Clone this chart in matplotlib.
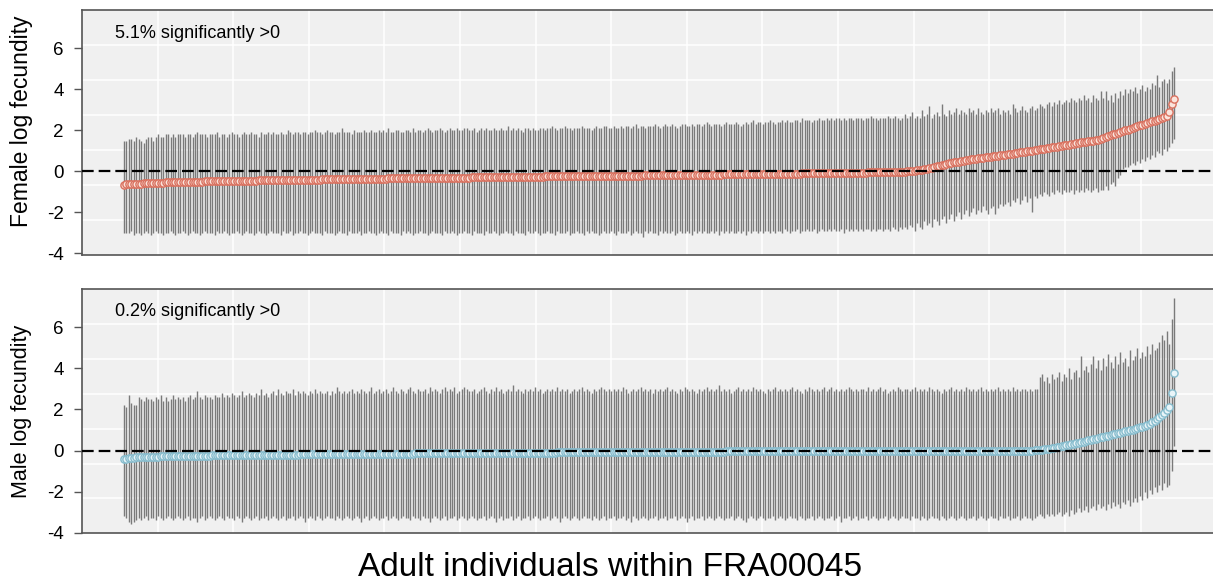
import numpy as np
import matplotlib
matplotlib.use("Agg")
import matplotlib.pyplot as plt

plt.rcParams['font.family'] = ['Liberation Sans', 'DejaVu Sans']
plt.rcParams['axes.unicode_minus'] = False
plt.rcParams['lines.scale_dashes'] = False

# posterior means and 95% intervals, individuals sorted by mean
fem_mean = [
    -0.65,-0.64,-0.63,-0.62,-0.62,-0.61,-0.60,-0.60,-0.59,-0.59,-0.58,-0.58,-0.57,-0.57,-0.56,-0.55,-0.55,-0.54,-0.54,-0.54,
    -0.53,-0.53,-0.53,-0.52,-0.52,-0.52,-0.51,-0.51,-0.51,-0.50,-0.50,-0.50,-0.50,-0.49,-0.49,-0.49,-0.49,-0.48,-0.48,-0.48,
    -0.48,-0.47,-0.47,-0.47,-0.47,-0.46,-0.46,-0.46,-0.46,-0.46,-0.45,-0.45,-0.45,-0.45,-0.45,-0.44,-0.44,-0.44,-0.44,-0.44,
    -0.44,-0.43,-0.43,-0.43,-0.43,-0.43,-0.42,-0.42,-0.42,-0.42,-0.42,-0.41,-0.41,-0.41,-0.41,-0.41,-0.40,-0.40,-0.40,-0.40,
    -0.40,-0.39,-0.39,-0.39,-0.39,-0.39,-0.38,-0.38,-0.38,-0.38,-0.38,-0.37,-0.37,-0.37,-0.37,-0.37,-0.36,-0.36,-0.36,-0.36,
    -0.36,-0.36,-0.35,-0.35,-0.35,-0.35,-0.35,-0.35,-0.34,-0.34,-0.34,-0.34,-0.34,-0.34,-0.33,-0.33,-0.33,-0.33,-0.33,-0.33,
    -0.33,-0.32,-0.32,-0.32,-0.32,-0.32,-0.32,-0.32,-0.31,-0.31,-0.31,-0.31,-0.31,-0.31,-0.31,-0.30,-0.30,-0.30,-0.30,-0.30,
    -0.30,-0.30,-0.29,-0.29,-0.29,-0.29,-0.29,-0.29,-0.29,-0.28,-0.28,-0.28,-0.28,-0.28,-0.28,-0.28,-0.27,-0.27,-0.27,-0.27,
    -0.27,-0.27,-0.27,-0.27,-0.26,-0.26,-0.26,-0.26,-0.26,-0.26,-0.26,-0.26,-0.25,-0.25,-0.25,-0.25,-0.25,-0.25,-0.25,-0.25,
    -0.24,-0.24,-0.24,-0.24,-0.24,-0.24,-0.24,-0.24,-0.24,-0.23,-0.23,-0.23,-0.23,-0.23,-0.23,-0.23,-0.23,-0.22,-0.22,-0.22,
    -0.22,-0.22,-0.22,-0.22,-0.22,-0.21,-0.21,-0.21,-0.21,-0.21,-0.21,-0.21,-0.20,-0.20,-0.20,-0.20,-0.20,-0.20,-0.20,-0.19,
    -0.19,-0.19,-0.19,-0.19,-0.19,-0.18,-0.18,-0.18,-0.18,-0.18,-0.18,-0.17,-0.17,-0.17,-0.17,-0.17,-0.17,-0.16,-0.16,-0.16,
    -0.16,-0.16,-0.16,-0.16,-0.16,-0.15,-0.15,-0.15,-0.15,-0.15,-0.15,-0.14,-0.14,-0.14,-0.14,-0.14,-0.14,-0.14,-0.13,-0.13,
    -0.13,-0.13,-0.13,-0.13,-0.12,-0.12,-0.12,-0.12,-0.12,-0.12,-0.11,-0.11,-0.11,-0.11,-0.11,-0.11,-0.11,-0.10,-0.10,-0.10,
    -0.10,-0.10,-0.10,-0.10,-0.09,-0.09,-0.09,-0.09,-0.09,-0.09,-0.08,-0.08,-0.08,-0.08,-0.08,-0.07,-0.07,-0.07,-0.07,-0.07,
    -0.06,-0.06,-0.06,-0.06,-0.05,-0.05,-0.05,-0.05,-0.04,-0.04,-0.04,-0.04,-0.03,-0.03,-0.03,-0.03,-0.02,-0.02,-0.02,-0.01,
    0.00,0.01,0.02,0.03,0.05,0.07,0.09,0.11,0.13,0.15,0.18,0.21,0.24,0.27,0.30,0.33,0.36,0.39,0.42,0.45,
    0.46,0.48,0.50,0.52,0.54,0.56,0.58,0.60,0.62,0.64,0.66,0.67,0.69,0.71,0.72,0.74,0.75,0.77,0.78,0.80,
    0.82,0.83,0.85,0.86,0.88,0.90,0.92,0.94,0.96,0.98,1.00,1.01,1.03,1.05,1.07,1.09,1.11,1.13,1.15,1.17,
    1.19,1.21,1.23,1.25,1.27,1.29,1.31,1.33,1.35,1.37,1.39,1.41,1.43,1.44,1.46,1.48,1.50,1.52,1.54,1.57,
    1.61,1.66,1.71,1.76,1.80,1.84,1.88,1.92,1.96,2.00,2.04,2.08,2.12,2.16,2.20,2.24,2.28,2.32,2.36,2.40,
    2.44,2.48,2.52,2.56,2.60,2.65,2.71,2.90,3.27,3.55,
]
fem_upper = [
    1.5,1.5,1.6,1.6,1.5,1.7,1.6,1.5,1.4,1.6,1.7,1.7,1.5,1.7,1.8,1.7,1.7,1.8,1.8,1.7,
    1.8,1.7,1.8,1.8,1.8,1.7,1.8,1.8,1.7,1.8,1.9,1.8,1.8,1.8,1.7,1.8,1.8,1.8,1.9,1.7,
    1.8,1.8,1.7,1.8,1.9,1.8,1.8,1.7,1.8,1.9,1.8,1.8,1.9,1.8,1.8,1.7,1.9,1.8,1.8,1.9,
    1.8,1.9,1.8,1.8,1.9,1.8,1.8,2.0,1.9,1.8,1.9,1.9,1.8,1.9,1.9,1.8,1.9,1.9,2.0,1.9,
    1.9,1.8,1.9,2.0,1.9,1.9,1.8,1.9,1.9,2.1,1.9,1.9,1.9,1.8,2.0,1.9,1.9,1.9,2.0,1.9,
    1.9,2.0,1.9,1.9,2.0,1.9,2.0,1.9,2.1,1.9,1.9,2.0,2.0,1.9,1.9,2.0,2.0,1.9,2.1,1.9,
    2.0,2.0,1.9,2.0,2.1,2.0,1.9,2.0,2.0,2.1,2.0,1.9,2.0,2.1,2.0,2.0,2.1,2.0,2.0,2.1,
    2.1,2.0,2.0,2.1,1.9,2.0,2.1,2.0,2.1,2.0,2.0,2.1,2.0,2.0,2.1,2.0,2.0,2.2,2.0,2.1,
    2.0,2.1,2.0,1.9,2.1,2.1,2.0,2.1,2.0,2.0,2.1,2.1,2.0,2.1,2.1,2.2,2.1,2.0,2.1,2.1,
    2.2,2.1,2.1,2.0,2.1,2.1,2.1,2.2,2.1,2.1,2.1,2.0,2.1,2.2,2.1,2.1,2.2,2.2,2.1,2.1,
    2.2,2.1,2.1,2.2,2.1,2.2,2.2,2.1,2.2,2.3,2.1,2.2,2.2,2.1,2.2,2.2,2.2,2.3,2.2,2.1,
    2.2,2.3,2.2,2.2,2.3,2.2,2.1,2.2,2.3,2.3,2.2,2.2,2.3,2.2,2.3,2.3,2.2,2.3,2.4,2.3,
    2.2,2.3,2.3,2.3,2.2,2.3,2.4,2.3,2.3,2.3,2.4,2.3,2.2,2.3,2.4,2.3,2.4,2.5,2.3,2.4,
    2.4,2.3,2.4,2.4,2.5,2.4,2.3,2.4,2.4,2.5,2.4,2.5,2.4,2.4,2.5,2.5,2.4,2.6,2.5,2.5,
    2.5,2.4,2.5,2.5,2.6,2.5,2.5,2.6,2.5,2.6,2.5,2.6,2.6,2.5,2.6,2.5,2.6,2.6,2.5,2.6,
    2.6,2.6,2.5,2.6,2.6,2.7,2.6,2.6,2.5,2.6,2.6,2.6,2.7,2.6,2.6,2.7,2.6,2.5,2.6,2.8,
    2.6,2.7,2.9,2.6,2.7,2.6,3.0,2.7,2.8,3.2,2.6,2.8,2.9,2.7,3.3,2.8,2.7,3.0,2.8,2.9,
    3.1,2.8,3.0,2.9,2.8,3.1,2.9,3.0,2.8,3.1,2.9,2.8,3.0,2.9,3.1,2.9,3.0,3.1,2.8,3.0,
    2.9,3.0,2.8,3.3,3.1,2.9,3.0,3.2,3.0,2.9,3.1,3.2,3.0,3.1,3.3,3.2,3.1,3.3,3.4,3.2,
    3.4,3.3,3.5,3.3,3.4,3.5,3.4,3.6,3.5,3.4,3.6,3.5,3.7,3.5,3.6,3.4,3.7,3.6,3.5,3.9,
    3.6,3.9,3.5,3.7,3.4,3.8,3.6,3.9,3.7,4.0,3.8,4.0,3.9,4.1,3.8,4.0,4.2,3.9,4.1,4.0,
    4.3,4.2,4.7,4.1,4.4,4.5,4.3,4.5,4.9,5.1,
]
fem_lower = [
    -3.0,-3.0,-3.0,-2.9,-3.1,-3.0,-3.0,-3.1,-3.0,-2.9,-3.0,-3.1,-3.0,-2.9,-3.0,-3.0,-3.1,-3.0,-3.0,-2.9,
    -3.0,-3.1,-3.0,-3.0,-2.9,-3.0,-3.1,-3.0,-2.9,-3.0,-3.0,-3.1,-3.0,-2.9,-3.0,-3.0,-3.0,-3.1,-2.9,-3.0,
    -3.0,-2.9,-3.0,-3.1,-3.0,-3.0,-2.9,-3.0,-3.1,-3.0,-2.9,-3.0,-3.0,-3.1,-3.0,-2.9,-3.0,-3.0,-3.1,-3.0,
    -2.9,-3.0,-3.0,-3.0,-3.1,-2.9,-3.0,-3.0,-2.9,-3.1,-3.0,-3.0,-2.9,-3.0,-3.0,-3.1,-3.0,-2.9,-3.0,-3.0,
    -3.0,-3.1,-2.9,-3.0,-3.0,-3.0,-3.1,-3.0,-2.9,-3.0,-3.0,-3.1,-2.9,-3.0,-3.0,-3.0,-2.9,-3.1,-3.0,-3.0,
    -2.9,-3.0,-3.0,-3.1,-3.0,-2.9,-3.0,-3.0,-3.1,-2.9,-3.0,-3.0,-3.0,-3.1,-2.9,-3.0,-2.9,-3.0,-3.1,-3.0,
    -3.0,-2.9,-3.0,-3.0,-3.1,-3.0,-2.9,-3.0,-3.0,-3.0,-3.1,-2.9,-3.0,-3.0,-2.9,-3.0,-3.1,-3.0,-3.0,-2.9,
    -3.0,-3.0,-3.1,-2.9,-3.0,-3.0,-3.0,-3.1,-2.9,-3.0,-3.0,-2.9,-3.0,-3.1,-3.0,-3.0,-2.9,-3.0,-3.0,-3.1,
    -2.9,-3.0,-3.0,-3.0,-3.1,-2.9,-3.0,-3.0,-2.9,-3.0,-3.1,-3.0,-3.0,-2.9,-3.0,-3.0,-3.1,-2.9,-3.0,-3.0,
    -3.0,-2.9,-3.1,-3.0,-3.0,-2.9,-3.0,-3.0,-3.1,-2.9,-3.0,-2.9,-3.0,-3.0,-3.1,-3.0,-2.9,-3.0,-3.0,-2.9,
    -3.0,-3.1,-2.9,-3.0,-3.0,-3.0,-2.9,-3.1,-3.0,-2.9,-3.0,-3.0,-3.2,-2.9,-3.0,-2.9,-3.0,-3.0,-3.1,-2.9,
    -3.0,-2.9,-3.0,-3.0,-2.9,-3.1,-3.0,-2.9,-3.0,-3.0,-2.9,-3.0,-3.1,-2.9,-3.0,-2.9,-3.0,-2.9,-3.0,-3.0,
    -2.9,-3.0,-2.9,-3.1,-2.9,-3.0,-2.9,-3.0,-2.9,-3.0,-3.0,-2.9,-3.0,-2.9,-3.1,-2.9,-3.0,-2.9,-2.9,-3.0,
    -2.9,-3.0,-2.9,-2.9,-3.0,-2.9,-3.0,-2.9,-2.9,-3.0,-2.8,-2.9,-3.0,-2.9,-2.9,-2.8,-3.0,-2.9,-2.9,-2.8,
    -2.9,-2.9,-2.8,-3.0,-2.9,-2.8,-2.9,-2.9,-2.8,-2.9,-2.8,-2.9,-2.9,-2.8,-3.0,-2.8,-2.9,-2.8,-2.9,-2.8,
    -2.9,-2.8,-2.9,-2.8,-2.8,-2.9,-2.8,-2.9,-2.8,-2.8,-2.9,-2.8,-2.8,-2.9,-2.7,-2.8,-2.9,-2.7,-2.8,-2.7,
    -2.8,-2.6,-2.7,-2.9,-2.5,-2.7,-2.8,-2.4,-2.6,-2.5,-2.7,-2.3,-2.4,-2.6,-2.3,-2.2,-2.5,-2.3,-2.1,-2.4,
    -2.2,-2.0,-2.3,-2.1,-1.9,-2.2,-2.0,-1.8,-2.1,-1.9,-2.0,-1.7,-1.9,-2.1,-1.8,-1.7,-2.1,-1.8,-1.6,-1.7,
    -1.6,-1.5,-1.7,-1.4,-1.5,-1.3,-1.6,-1.4,-1.2,-1.5,-1.3,-2.0,-1.2,-1.3,-1.1,-1.2,-1.0,-1.1,-1.2,-1.0,
    -1.1,-0.9,-1.0,-1.1,-0.9,-1.0,-1.0,-0.9,-1.1,-0.9,-1.0,-0.9,-1.0,-0.8,-0.9,-1.0,-0.9,-0.8,-1.0,-0.9,
    -0.9,-0.7,-0.9,-0.6,-0.5,-0.7,-0.3,-0.2,0.1,0.2,0.2,0.3,0.4,0.3,0.5,0.4,0.6,0.5,0.7,0.6,
    0.8,0.7,1.0,0.9,0.8,1.1,1.0,1.2,1.4,1.6,
]

male_mean = [
    -0.42,-0.40,-0.38,-0.36,-0.35,-0.34,-0.33,-0.33,-0.32,-0.32,-0.31,-0.31,-0.30,-0.30,-0.30,-0.29,-0.29,-0.29,-0.28,-0.28,
    -0.28,-0.28,-0.27,-0.27,-0.27,-0.27,-0.26,-0.26,-0.26,-0.26,-0.26,-0.25,-0.25,-0.25,-0.25,-0.25,-0.24,-0.24,-0.24,-0.24,
    -0.24,-0.24,-0.23,-0.23,-0.23,-0.23,-0.23,-0.23,-0.23,-0.22,-0.22,-0.22,-0.22,-0.22,-0.22,-0.22,-0.21,-0.21,-0.21,-0.21,
    -0.21,-0.21,-0.21,-0.21,-0.20,-0.20,-0.20,-0.20,-0.20,-0.20,-0.20,-0.20,-0.19,-0.19,-0.19,-0.19,-0.19,-0.19,-0.19,-0.19,
    -0.19,-0.18,-0.18,-0.18,-0.18,-0.18,-0.18,-0.18,-0.18,-0.18,-0.17,-0.17,-0.17,-0.17,-0.17,-0.17,-0.17,-0.17,-0.17,-0.16,
    -0.16,-0.16,-0.16,-0.16,-0.16,-0.16,-0.16,-0.16,-0.16,-0.15,-0.15,-0.15,-0.15,-0.15,-0.15,-0.15,-0.15,-0.15,-0.15,-0.14,
    -0.14,-0.14,-0.14,-0.14,-0.14,-0.14,-0.14,-0.14,-0.14,-0.13,-0.13,-0.13,-0.13,-0.13,-0.13,-0.13,-0.13,-0.13,-0.13,-0.13,
    -0.13,-0.12,-0.12,-0.12,-0.12,-0.12,-0.12,-0.12,-0.12,-0.12,-0.12,-0.12,-0.12,-0.11,-0.11,-0.11,-0.11,-0.11,-0.11,-0.11,
    -0.11,-0.11,-0.11,-0.11,-0.11,-0.10,-0.10,-0.10,-0.10,-0.10,-0.10,-0.10,-0.10,-0.10,-0.10,-0.10,-0.10,-0.09,-0.09,-0.09,
    -0.09,-0.09,-0.09,-0.09,-0.09,-0.09,-0.09,-0.09,-0.09,-0.09,-0.08,-0.08,-0.08,-0.08,-0.08,-0.08,-0.08,-0.08,-0.08,-0.08,
    -0.08,-0.08,-0.08,-0.07,-0.07,-0.07,-0.07,-0.07,-0.07,-0.07,-0.07,-0.07,-0.07,-0.07,-0.07,-0.07,-0.06,-0.06,-0.06,-0.06,
    -0.06,-0.06,-0.06,-0.06,-0.06,-0.06,-0.06,-0.06,-0.06,-0.06,-0.05,-0.05,-0.05,-0.05,-0.05,-0.05,-0.05,-0.05,-0.05,-0.05,
    -0.05,-0.05,-0.05,-0.05,-0.05,-0.05,-0.04,-0.04,-0.04,-0.04,-0.04,-0.04,-0.04,-0.04,-0.04,-0.04,-0.04,-0.04,-0.04,-0.04,
    -0.04,-0.04,-0.04,-0.04,-0.03,-0.03,-0.03,-0.03,-0.03,-0.03,-0.03,-0.03,-0.03,-0.03,-0.03,-0.03,-0.03,-0.03,-0.03,-0.03,
    -0.03,-0.03,-0.03,-0.03,-0.03,-0.03,-0.03,-0.02,-0.02,-0.02,-0.02,-0.02,-0.02,-0.02,-0.02,-0.02,-0.02,-0.02,-0.02,-0.02,
    -0.02,-0.02,-0.02,-0.02,-0.02,-0.02,-0.02,-0.02,-0.02,-0.02,-0.02,-0.01,-0.01,-0.01,-0.01,-0.01,-0.01,-0.01,-0.01,-0.01,
    -0.01,-0.01,-0.01,-0.01,-0.01,-0.01,-0.01,-0.01,-0.01,-0.01,-0.01,-0.01,-0.01,-0.01,-0.01,-0.01,-0.01,-0.01,-0.01,-0.01,
    -0.01,-0.01,-0.01,-0.01,-0.01,-0.01,-0.01,-0.01,-0.01,-0.01,-0.01,-0.01,-0.01,-0.01,-0.01,-0.01,-0.01,-0.01,-0.01,-0.01,
    -0.01,-0.01,-0.01,-0.01,-0.01,-0.01,-0.01,0.00,0.00,0.00,0.00,0.00,0.01,0.01,0.02,0.03,0.05,0.07,0.09,0.11,
    0.13,0.15,0.18,0.20,0.22,0.25,0.28,0.30,0.33,0.36,0.38,0.40,0.43,0.46,0.49,0.52,0.55,0.58,0.61,0.64,
    0.66,0.69,0.72,0.75,0.78,0.81,0.84,0.87,0.90,0.93,0.96,0.99,1.02,1.05,1.08,1.12,1.16,1.20,1.24,1.30,
    1.38,1.46,1.55,1.64,1.72,1.82,1.98,2.14,2.78,3.76,
]
male_upper = [
    2.2,2.1,2.7,2.3,2.2,2.2,2.6,2.5,2.4,2.6,2.5,2.5,2.4,2.6,2.5,2.7,2.4,2.6,2.4,2.5,
    2.7,2.5,2.6,2.5,2.6,2.4,2.6,2.7,2.5,2.6,2.9,2.6,2.5,2.7,2.6,2.6,2.5,2.7,2.6,2.6,
    2.8,2.6,2.7,2.6,2.8,2.7,2.6,2.7,2.9,2.6,2.7,2.8,2.7,2.6,2.8,2.7,3.0,2.7,2.8,2.6,
    2.8,2.9,2.7,3.0,2.8,2.7,2.9,2.8,2.8,3.0,2.7,2.9,2.8,2.9,2.8,2.7,2.9,2.8,3.0,2.8,
    2.9,2.8,2.8,2.9,2.7,2.9,2.8,3.1,2.9,2.8,2.9,2.8,2.9,3.0,2.8,2.9,2.8,3.0,2.9,2.8,
    2.9,3.1,2.8,2.9,3.0,2.8,2.9,3.0,2.8,2.9,3.1,2.9,2.8,3.0,2.9,2.8,3.0,3.1,2.9,2.8,
    3.0,2.9,2.9,3.0,2.8,3.1,2.9,3.0,2.9,2.8,3.0,3.1,2.9,3.0,2.9,3.1,2.8,2.9,3.0,3.1,
    3.0,2.9,2.9,3.0,2.8,2.9,3.0,3.1,2.9,2.8,3.0,2.9,3.1,2.9,3.0,2.8,2.9,3.0,2.9,3.2,
    2.9,3.0,2.9,2.8,3.0,2.9,3.0,2.9,3.1,2.9,3.0,2.8,2.9,3.0,2.9,3.0,2.9,3.1,2.9,3.0,
    2.9,3.0,2.8,2.9,3.0,2.9,3.0,3.1,2.9,3.0,2.9,2.8,3.0,2.9,3.0,3.1,3.0,2.9,3.0,2.9,
    3.0,2.9,3.0,2.9,3.1,3.0,2.8,2.9,3.0,2.9,3.0,3.1,2.9,3.0,2.9,3.0,2.8,3.0,2.9,3.0,
    2.9,3.0,3.1,2.9,3.0,2.9,2.8,3.0,2.9,3.1,3.0,2.9,3.0,2.9,2.8,3.0,2.9,3.0,3.1,2.9,
    3.0,2.9,3.0,3.2,2.9,3.0,2.9,3.0,2.8,2.9,3.0,3.1,2.9,3.0,2.9,3.0,2.9,3.1,3.0,2.9,
    3.0,2.9,2.8,3.0,2.9,3.0,3.1,2.9,3.0,2.9,3.0,2.9,3.0,3.1,2.9,3.0,2.9,2.8,3.0,2.9,
    3.1,3.0,2.9,3.0,2.9,3.0,3.1,2.9,3.0,3.1,2.9,3.0,2.9,3.0,2.9,3.0,3.1,3.0,2.9,3.0,
    2.9,3.0,3.0,2.9,3.1,2.9,3.0,2.9,3.0,3.1,2.9,3.0,2.8,2.9,3.0,2.9,3.1,3.0,2.9,3.0,
    3.0,2.9,3.0,3.1,2.9,3.0,2.9,3.0,2.9,3.1,3.0,2.9,3.0,2.9,2.8,3.0,2.9,3.0,3.1,2.9,
    3.0,2.9,3.0,2.9,3.1,3.0,2.9,3.0,2.9,3.0,3.1,2.9,3.0,2.9,3.0,2.9,3.0,3.1,2.9,3.0,
    2.9,3.0,2.9,3.1,2.9,3.0,2.9,3.0,3.0,2.9,3.0,2.9,3.0,3.0,3.6,3.7,3.4,3.6,3.3,3.7,
    3.5,3.6,3.8,3.4,3.7,3.6,4.0,3.5,3.8,3.9,3.6,4.6,3.9,4.1,3.8,4.2,4.6,4.0,4.4,3.9,
    4.5,4.1,4.7,4.3,4.0,4.6,4.2,4.8,4.3,4.5,4.1,4.9,4.4,4.6,5.0,4.5,4.8,4.6,5.1,4.7,
    5.2,4.9,5.0,5.3,5.6,5.4,5.8,5.2,6.4,7.4,
]
male_lower = [
    -3.2,-3.3,-3.5,-3.6,-3.5,-3.4,-3.3,-3.4,-3.3,-3.2,-3.4,-3.3,-3.3,-3.4,-3.2,-3.3,-3.4,-3.3,-3.2,-3.3,
    -3.4,-3.3,-3.2,-3.3,-3.4,-3.3,-3.2,-3.4,-3.3,-3.3,-3.5,-3.3,-3.2,-3.4,-3.3,-3.2,-3.3,-3.4,-3.3,-3.2,
    -3.3,-3.4,-3.2,-3.3,-3.3,-3.4,-3.2,-3.3,-3.5,-3.3,-3.2,-3.3,-3.4,-3.3,-3.2,-3.4,-3.3,-3.3,-3.2,-3.4,
    -3.3,-3.2,-3.3,-3.4,-3.3,-3.2,-3.4,-3.3,-3.3,-3.2,-3.4,-3.3,-3.2,-3.3,-3.5,-3.3,-3.2,-3.3,-3.4,-3.2,
    -3.3,-3.4,-3.3,-3.2,-3.3,-3.3,-3.4,-3.2,-3.3,-3.4,-3.3,-3.2,-3.3,-3.4,-3.3,-3.2,-3.3,-3.5,-3.3,-3.2,
    -3.4,-3.3,-3.2,-3.3,-3.4,-3.3,-3.3,-3.2,-3.4,-3.3,-3.2,-3.3,-3.4,-3.3,-3.2,-3.3,-3.3,-3.4,-3.2,-3.3,
    -3.3,-3.4,-3.2,-3.3,-3.3,-3.5,-3.3,-3.2,-3.3,-3.4,-3.3,-3.2,-3.4,-3.3,-3.3,-3.2,-3.4,-3.3,-3.2,-3.3,
    -3.4,-3.3,-3.2,-3.3,-3.4,-3.3,-3.3,-3.2,-3.4,-3.3,-3.2,-3.3,-3.5,-3.3,-3.2,-3.4,-3.3,-3.3,-3.2,-3.4,
    -3.3,-3.2,-3.4,-3.3,-3.3,-3.2,-3.4,-3.3,-3.2,-3.3,-3.4,-3.3,-3.3,-3.2,-3.4,-3.3,-3.2,-3.3,-3.5,-3.3,
    -3.2,-3.3,-3.4,-3.3,-3.2,-3.3,-3.4,-3.3,-3.2,-3.3,-3.3,-3.4,-3.2,-3.3,-3.4,-3.3,-3.2,-3.4,-3.3,-3.3,
    -3.2,-3.4,-3.3,-3.3,-3.2,-3.4,-3.3,-3.5,-3.2,-3.3,-3.4,-3.3,-3.2,-3.3,-3.4,-3.3,-3.3,-3.2,-3.4,-3.3,
    -3.3,-3.2,-3.4,-3.3,-3.3,-3.2,-3.4,-3.3,-3.2,-3.3,-3.5,-3.3,-3.2,-3.4,-3.3,-3.3,-3.2,-3.4,-3.3,-3.2,
    -3.3,-3.4,-3.3,-3.2,-3.3,-3.4,-3.3,-3.3,-3.2,-3.4,-3.3,-3.2,-3.3,-3.4,-3.5,-3.3,-3.2,-3.3,-3.4,-3.3,
    -3.2,-3.3,-3.4,-3.3,-3.3,-3.2,-3.4,-3.3,-3.2,-3.3,-3.4,-3.3,-3.2,-3.3,-3.3,-3.4,-3.2,-3.3,-3.4,-3.3,
    -3.3,-3.2,-3.4,-3.3,-3.2,-3.3,-3.4,-3.3,-3.3,-3.2,-3.4,-3.3,-3.2,-3.5,-3.3,-3.3,-3.2,-3.4,-3.3,-3.2,
    -3.4,-3.3,-3.3,-3.2,-3.4,-3.3,-3.2,-3.3,-3.4,-3.3,-3.3,-3.2,-3.4,-3.3,-3.2,-3.3,-3.4,-3.3,-3.2,-3.3,
    -3.3,-3.4,-3.2,-3.3,-3.3,-3.4,-3.2,-3.3,-3.4,-3.3,-3.2,-3.3,-3.3,-3.4,-3.2,-3.3,-3.4,-3.3,-3.2,-3.3,
    -3.4,-3.3,-3.2,-3.3,-3.4,-3.3,-3.3,-3.2,-3.4,-3.3,-3.2,-3.3,-3.4,-3.3,-3.2,-3.3,-3.3,-3.4,-3.2,-3.3,
    -3.3,-3.2,-3.4,-3.3,-3.3,-3.2,-3.4,-3.3,-3.2,-3.3,-3.3,-3.4,-3.3,-3.2,-3.1,-3.2,-3.3,-3.1,-3.2,-3.1,
    -3.2,-3.1,-3.0,-3.2,-3.1,-3.0,-3.2,-2.9,-3.1,-3.0,-2.8,-3.0,-2.9,-2.7,-3.0,-2.8,-2.7,-2.9,-2.6,-2.8,
    -2.7,-2.9,-2.6,-2.8,-2.5,-2.7,-2.6,-2.8,-2.5,-2.6,-2.4,-2.7,-2.5,-2.3,-2.5,-2.2,-2.4,-2.0,-2.3,-1.9,
    -2.1,-1.8,-2.0,-1.7,-1.9,-1.6,-1.8,-1.7,-1.0,0.2,
]

panels = [
    ("Female log fecundity", "5.1% significantly >0", fem_mean, fem_lower, fem_upper,
     "#d9705e", "#fbe4dc", (-4.08, 7.87), [0.0676, 0.5663, 0.935, 0.4167], 0.7934, 16.5),
    ("Male log fecundity", "0.2% significantly >0", male_mean, male_lower, male_upper,
     "#86bccd", "#e9f5f9", (-4.03, 7.86), [0.0676, 0.0930, 0.935, 0.4155], 0.3010, 15.5),
]

fig = plt.figure(figsize=(12.13, 5.88), dpi=100)

for ylab, note, mean, lo, hi, edge, face, ylim, pos, ylab_y, ylab_fs in panels:
    ax = fig.add_axes(pos)
    n = len(mean)
    x = np.arange(1, n + 1)
    ax.set_xlim(1 - 0.04 * (n - 1), n + 0.04 * (n - 1))
    ax.set_ylim(*ylim)
    ax.set_facecolor("#f0f0f0")

    # background grid: evenly spaced through the panel
    x0, x1 = ax.get_xlim()
    for k in range(1, 15):
        ax.axvline(x0 + (x1 - x0) * k / 15, color="white", lw=1.1, zorder=0)
    for k in range(1, 7):
        ax.axhline(ylim[0] + (ylim[1] - ylim[0]) * k / 7, color="white", lw=1.1, zorder=0)

    ax.vlines(x, lo, hi, colors="#7a7a7a", lw=1.0, zorder=2)
    ax.plot(x, mean, "o", ms=5.2, mfc=face, mec=edge, mew=1.0, zorder=3)
    ax.axhline(0, color="black", lw=1.6, linestyle=(0, (8.4, 3.6)), zorder=4)

    ax.set_yticks([-4, -2, 0, 2, 4, 6])
    ax.set_xticks([])
    ax.tick_params(axis="y", length=6, width=1, color="#555555", pad=7, labelsize=13.5)
    for s in ax.spines.values():
        s.set_color("#555555")
        s.set_linewidth(1.2)

    ax.text(0.029, 0.906, note, transform=ax.transAxes, fontsize=13, ha="left", va="center")
    fig.text(22 / 1213, ylab_y, ylab, rotation=90, ha="center", va="center", fontsize=ylab_fs)

fig.text(610 / 1213, 0.0357, "Adult individuals within FRA00045", ha="center", va="center", fontsize=24)

fig.savefig("out.png", dpi=100)
